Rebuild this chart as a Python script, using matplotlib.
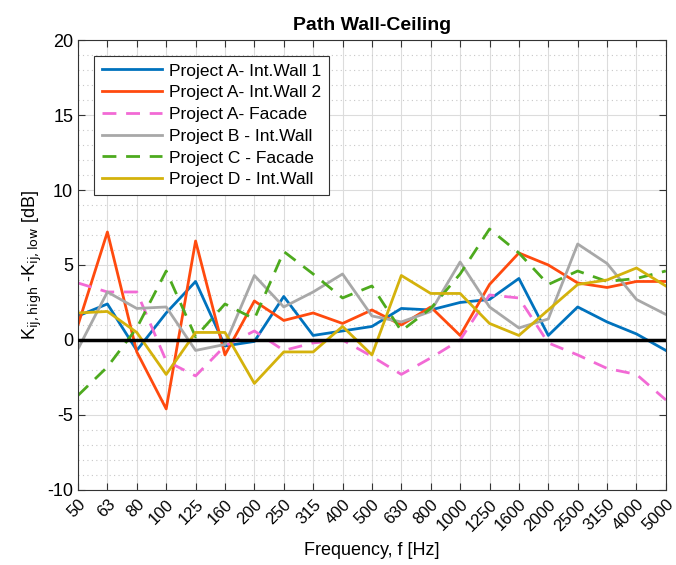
import numpy as np
import matplotlib
matplotlib.use("Agg")
import matplotlib.pyplot as plt
from matplotlib.ticker import MultipleLocator

plt.rcParams['font.family'] = ['Liberation Sans', 'DejaVu Sans']
plt.rcParams['axes.unicode_minus'] = False

freqs = ['50', '63', '80', '100', '125', '160', '200', '250', '315', '400', '500',
         '630', '800', '1000', '1250', '1600', '2000', '2500', '3150', '4000', '5000']

a_wall1 = [1.6, 2.4, -0.7, 1.8, 3.9, -0.4, -0.1, 2.9, 0.3, 0.6, 0.9,
           2.1, 2.0, 2.5, 2.7, 4.1, 0.3, 2.2, 1.2, 0.4, -0.7]
a_wall2 = [1.0, 7.2, -0.8, -4.6, 6.6, -1.0, 2.6, 1.3, 1.8, 1.1, 2.0,
           1.0, 2.2, 0.3, 3.7, 5.8, 5.0, 3.8, 3.5, 3.9, 3.9]
a_facade = [3.8, 3.2, 3.2, -1.4, -2.4, -0.4, 0.6, -0.7, -0.2, 0.0, -1.1,
            -2.3, -1.2, 0.0, 3.0, 2.8, -0.2, -1.0, -1.9, -2.3, -4.0]
b_wall = [-0.6, 3.2, 2.1, 2.2, -0.7, -0.3, 4.3, 2.2, 3.2, 4.4, 1.6,
          1.2, 1.9, 5.2, 2.2, 0.8, 1.4, 6.4, 5.1, 2.7, 1.7]
c_facade = [-3.7, -1.8, 0.8, 4.6, 0.2, 2.4, 1.4, 5.9, 4.4, 2.8, 3.6,
            0.6, 2.1, 4.4, 7.4, 5.8, 3.7, 4.6, 3.9, 4.1, 4.6]
d_wall = [1.8, 1.9, 0.5, -2.3, 0.5, 0.5, -2.9, -0.8, -0.8, 0.9, -1.0,
          4.3, 3.1, 3.1, 1.1, 0.3, 2.0, 3.7, 4.0, 4.8, 3.6]

x = np.arange(len(freqs))

fig = plt.figure(figsize=(6.76, 5.65), dpi=100)
ax = fig.add_axes([0.1154, 0.133, 0.8696, 0.796])

ax.plot(x, a_wall1, color='#0072BD', lw=2, label='Project A- Int.Wall 1')
ax.plot(x, a_wall2, color='#FF4A0E', lw=2, label='Project A- Int.Wall 2')
ax.plot(x, a_facade, color='#F26AD5', lw=2, ls=(0, (5, 3.5)), label='Project A- Facade')
ax.plot(x, b_wall, color='#A8A8A8', lw=2, label='Project B - Int.Wall')
ax.plot(x, c_facade, color='#4DAA1E', lw=2, ls=(0, (5, 3.5)), label='Project C - Facade')
ax.plot(x, d_wall, color='#D4B20C', lw=2, label='Project D - Int.Wall')
ax.axhline(0, color='black', lw=2.5, zorder=3)

ax.set_xlim(0, len(freqs) - 1)
ax.set_ylim(-10, 20)
ax.set_xticks(x)
ax.set_xticklabels(freqs, rotation=45, ha='right', rotation_mode='anchor')
ax.yaxis.set_major_locator(MultipleLocator(5))
ax.yaxis.set_minor_locator(MultipleLocator(1))
ax.tick_params(axis='both', which='major', direction='in', top=True, right=True,
               length=5, labelsize=13, color='#333333')
ax.tick_params(axis='x', labelsize=12, pad=5)
ax.tick_params(axis='y', which='minor', left=False, right=False)
ax.grid(True, which='major', color='#DCDCDC', lw=0.8)
ax.grid(True, which='minor', axis='y', color='#C8C8C8', lw=0.8, ls=(0, (1, 3)))
ax.set_axisbelow(True)
for s in ax.spines.values():
    s.set_color('#333333')
    s.set_linewidth(0.8)

ax.set_title('Path Wall-Ceiling', fontsize=14, fontweight='bold', pad=7)
ax.set_xlabel('Frequency, f [Hz]', fontsize=13, labelpad=6)
ax.set_ylabel(r'K$_{\mathrm{ij,high}}$ -K$_{\mathrm{ij,low}}$ [dB]', fontsize=13, labelpad=2)

leg = ax.legend(loc='upper left', bbox_to_anchor=(0.012, 0.985), fontsize=12.5,
                fancybox=False, edgecolor='#333333', framealpha=1,
                handlelength=3.5, labelspacing=0.38, borderpad=0.45, handletextpad=0.4)
leg.get_frame().set_linewidth(0.8)

fig.savefig('out.png', dpi=100)
